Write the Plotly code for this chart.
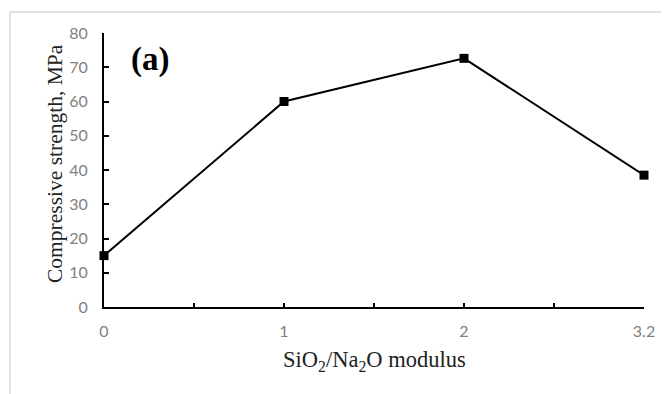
import plotly.graph_objects as go

categories = ["0", "1", "2", "3.2"]
strength = [15.0, 60.0, 72.6, 38.5]
y_ticks = [0, 10, 20, 30, 40, 50, 60, 70, 80]

x_pos = list(range(len(categories)))

# page body has an 8px default margin; figure sized to fit the window
OFF = 8
W, H = 669 - OFF, 394 - OFF
ml, mt = 104 - OFF, 33 - OFF
pw, ph = 540, 274
mr = W - ml - pw
mb = H - mt - ph


def sx(px):
    return (px - OFF - ml) / pw


def sy(py):
    return (mt + ph - (py - OFF)) / ph


fig = go.Figure()
fig.add_trace(go.Scatter(
    x=x_pos, y=strength, mode="lines+markers",
    line=dict(color="black", width=2),
    marker=dict(symbol="square", size=9, color="black"),
    cliponaxis=False, showlegend=False,
))

fig.add_shape(type="rect", xref="paper", yref="paper",
              x0=sx(10), x1=sx(720), y0=sy(440), y1=sy(12),
              line=dict(color="#d9d9d9", width=1.5), layer="below")

fig.add_annotation(x=sx(129), y=sy(59), xref="paper", yref="paper",
                   text="<b>(a)</b>", showarrow=False, xanchor="left", yanchor="middle",
                   font=dict(family="Liberation Serif", size=33, color="black"))

fig.add_annotation(x=sx(374), y=sy(361), xref="paper", yref="paper",
                   text="SiO<sub>2</sub>/Na<sub>2</sub>O modulus", showarrow=False,
                   xanchor="center", yanchor="middle",
                   font=dict(family="Liberation Serif", size=22.5, color="#222"))

fig.add_annotation(x=sx(55), y=sy(164), xref="paper", yref="paper",
                   text="Compressive strength, MPa", showarrow=False, textangle=-90,
                   xanchor="center", yanchor="middle",
                   font=dict(family="Liberation Serif", size=21.5, color="#222"))

fig.update_layout(
    width=W, height=H,
    margin=dict(l=ml, r=mr, t=mt, b=mb),
    paper_bgcolor="white", plot_bgcolor="white",
    xaxis=dict(range=[0, len(categories) - 1], tickmode="array",
               tickvals=x_pos, ticktext=categories,
               ticks="inside", ticklen=4, tickwidth=2, tickcolor="black",
               minor=dict(tickmode="linear", tick0=0, dtick=0.5, ticks="inside",
                          ticklen=4, tickwidth=2, tickcolor="black", showgrid=False),
               showline=True, linecolor="black", linewidth=2,
               showgrid=False, zeroline=False, ticklabelstandoff=9,
               tickfont=dict(family="Lato", size=16, color="#7f7f7f")),
    yaxis=dict(range=[0, 80], tickmode="array", tickvals=y_ticks,
               ticks="inside", ticklen=5, tickwidth=2, tickcolor="black",
               showline=True, linecolor="black", linewidth=2,
               showgrid=False, zeroline=False, ticklabelstandoff=11,
               tickfont=dict(family="Lato", size=16, color="#7f7f7f")),
)

fig.write_html("out.html")
